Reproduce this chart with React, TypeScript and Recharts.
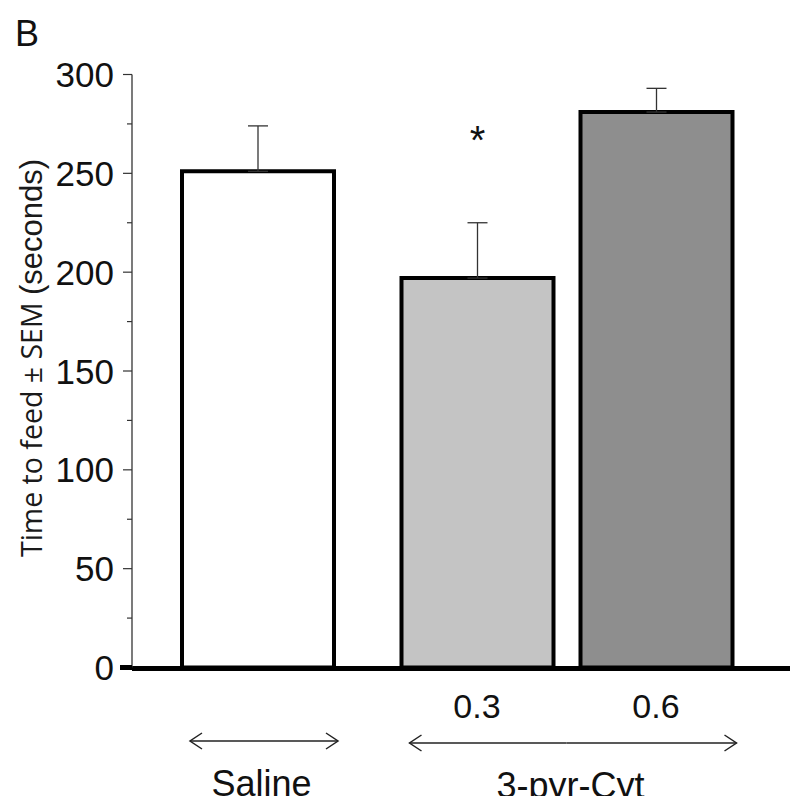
import React from "react";
import { BarChart, Bar, XAxis, YAxis, Cell, ErrorBar, LabelList } from "recharts";

const conditions = ["Saline", "0.3", "0.6"];
const groups = ["Saline", "3-pyr-Cyt", "3-pyr-Cyt"];
const timeToFeed = [251, 197, 281];
const sem = [23, 28, 12];
const significance = ["", "*", ""];
const barColors = ["#ffffff", "#c4c4c4", "#8e8e8e"];
const yTicks = [0, 25, 50, 75, 100, 125, 150, 175, 200, 225, 250, 275, 300];

const data = conditions.map((condition, i) => {
  const control = groups[i] === "Saline";
  return {
    condition,
    group: groups[i],
    saline: control ? timeToFeed[i] : null,
    salineErr: control ? [0, sem[i]] : null,
    drug: control ? null : timeToFeed[i],
    drugErr: control ? null : [0, sem[i]],
    sig: significance[i],
  };
});

const FONT = '"Liberation Sans", Arial, Helvetica, sans-serif';
const INK = "#111";

const YTick = (props: any) => {
  const { x, y, payload } = props;
  const v = payload.value;
  const major = v % 50 === 0;
  return (
    <g>
      {v === 0 ? (
        <line x1={x - 12} x2={x} y1={y} y2={y} stroke="#000" strokeWidth={5} />
      ) : (
        <line x1={x - (major ? 9 : 5)} x2={x} y1={y} y2={y} stroke="#333" strokeWidth={1.2} />
      )}
      {major && (
        <text x={x - 18} y={y + 12.5} textAnchor="end" fontSize={35} fontFamily={FONT} fill={INK}>
          {v}
        </text>
      )}
    </g>
  );
};

// draws dose label, group arrow and group name under each category
const makeGroupTick = (controlAxis: boolean) => (props: any) => {
  const { x, payload } = props;
  const y = controlAxis ? props.y - 1 : props.y;
  const i = payload.index;
  const row = data[i];
  if ((row.group === "Saline") !== controlAxis) return null;
  const half = payload.offset || 89.5;
  const first = i === 0 || groups[i - 1] !== row.group;
  const last = i === groups.length - 1 || groups[i + 1] !== row.group;
  const size = groups.filter((g) => g === row.group).length;
  const ay = y + 74.5;
  const x1 = first ? x - half + 22 : x - half;
  const x2 = last ? x + half - 9 : x + half;
  const stroke = { fill: "none", stroke: "#222", strokeWidth: 1.5 };
  return (
    <g>
      {!controlAxis && (
        <text x={x} y={y + 49.5} textAnchor="middle" fontSize={34} fontFamily={FONT} fill={INK}>
          {row.condition}
        </text>
      )}
      <line x1={x1} x2={x2} y1={ay} y2={ay} {...stroke} />
      {first && <polyline points={`${x1 + 12},${ay - 8} ${x1},${ay} ${x1 + 12},${ay + 8}`} {...stroke} />}
      {last && <polyline points={`${x2 - 12},${ay - 8} ${x2},${ay} ${x2 - 12},${ay + 8}`} {...stroke} />}
      {first && (
        <text
          x={x + half * (size - 1) + 4}
          y={y + 129}
          textAnchor="middle"
          fontSize={36}
          fontFamily={FONT}
          fill={INK}
        >
          {row.group}
        </text>
      )}
    </g>
  );
};

const SigLabel = (props: any) => {
  const { x, y, width, value } = props;
  if (!value) return null;
  return (
    <text x={x + width / 2} y={y - 124} textAnchor="middle" fontSize={40} fontFamily={FONT} fill={INK}>
      {value}
    </text>
  );
};

const YTitle = (props: any) => {
  const vb = props.viewBox;
  const cx = vb.x + 31;
  const cy = vb.y + vb.height / 2 - 13;
  return (
    <text
      transform={`translate(${cx},${cy}) rotate(-90)`}
      textAnchor="middle"
      dominantBaseline="central"
      fill="#1a1a1a"
    >
      <tspan fontSize={28.5} fontFamily='"Open Sans", "Noto Sans", sans-serif'>
        Time to feed ± SEM{" "}
      </tspan>
      <tspan fontSize={31} fontFamily={FONT}>
        (seconds)
      </tspan>
    </text>
  );
};

export default function App() {
  return (
    <div style={{ position: "relative", width: 798, height: 804, margin: -8, background: "#fff" }}>
      <div
        style={{
          position: "absolute",
          left: 15,
          top: 16,
          fontFamily: FONT,
          fontSize: 36,
          lineHeight: "36px",
          color: INK,
        }}
      >
        B
      </div>
      <BarChart
        width={798}
        height={804}
        data={data}
        margin={{ top: 74.5, right: 0, bottom: 134.5, left: 0 }}
        barSize={152}
      >
        <XAxis
          xAxisId="drug"
          dataKey="condition"
          height={1}
          padding={{ left: 76.5, right: 52.5 }}
          axisLine={{ stroke: "#000", strokeWidth: 5 }}
          tickLine={false}
          tickSize={0}
          tickMargin={0}
          tick={makeGroupTick(false)}
          interval={0}
        />
        <XAxis
          xAxisId="control"
          dataKey="condition"
          height={1}
          padding={{ left: 36, right: 93 }}
          axisLine={false}
          tickLine={false}
          tickSize={0}
          tickMargin={0}
          tick={makeGroupTick(true)}
          interval={0}
        />
        <YAxis
          width={132}
          domain={[0, 300]}
          ticks={yTicks}
          interval={0}
          axisLine={{ stroke: "#333", strokeWidth: 1.3 }}
          tickLine={false}
          tickSize={0}
          tickMargin={0}
          tick={<YTick />}
          label={{ content: <YTitle /> }}
        />
        <Bar xAxisId="control" dataKey="saline" fill={barColors[0]} stroke="#000" strokeWidth={4} isAnimationActive={false}>
          <ErrorBar dataKey="salineErr" direction="y" width={10} stroke="#333" strokeWidth={1.3} />
        </Bar>
        <Bar xAxisId="drug" dataKey="drug" stroke="#000" strokeWidth={4} isAnimationActive={false}>
          {data.map((_, i) => (
            <Cell key={i} fill={barColors[i]} />
          ))}
          <ErrorBar dataKey="drugErr" direction="y" width={10} stroke="#333" strokeWidth={1.3} />
          <LabelList dataKey="sig" content={<SigLabel />} />
        </Bar>
      </BarChart>
    </div>
  );
}
